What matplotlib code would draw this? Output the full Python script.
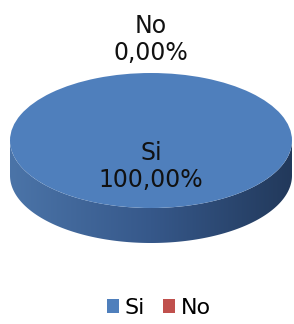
import numpy as np
import matplotlib.pyplot as plt
from matplotlib.colors import LinearSegmentedColormap
from matplotlib.patches import Polygon, Patch

categories = ['Si', 'No']
values = [100.0, 0.0]
colors = ['#4F7FBC', '#C0504D']
side_colors = ['#4b74a8', '#36588a', '#22395b']

W, H = 294, 324
fig = plt.figure(figsize=(W / 100, H / 100), dpi=100)
ax = fig.add_axes([0, 0, 1, 1])

# ellipse of the pie top, in pixels (y from top of image)
cx, cy = 151, 140.5
rx, ry = 141, 67.5
depth = 35 / ry

wedges, _ = ax.pie(values, colors=colors, startangle=90, counterclock=False,
                   radius=1, wedgeprops=dict(linewidth=0, zorder=2))

# side of the 3D pie, shaded with a horizontal gradient
cmap = LinearSegmentedColormap.from_list('side', side_colors)
for w in wedges:
    t = np.radians(np.linspace(w.theta1, w.theta2, 721))
    front = np.sin(t) <= 0
    if front.sum() < 2:
        continue
    xs, ys = np.cos(t[front]), np.sin(t[front])
    pts = np.column_stack([np.r_[xs, xs[::-1]], np.r_[ys, ys[::-1] - depth]])
    poly = Polygon(pts, closed=True, facecolor='none', edgecolor='none', zorder=1)
    ax.add_patch(poly)
    grad = np.linspace(0, 1, 256).reshape(1, -1)
    im = ax.imshow(grad, cmap=cmap, extent=(xs.min(), xs.max(), -1 - depth, 0),
                   aspect='auto', zorder=1)
    im.set_clip_path(poly)

ax.set_aspect('auto')
ax.set_xlim(-cx / rx, (W - cx) / rx)
ax.set_ylim(-(H - cy) / ry, cy / ry)
ax.axis('off')

# data labels
total = sum(values)
for w, cat, v in zip(wedges, categories, values):
    share = v / total
    mid = np.radians((w.theta1 + w.theta2) / 2)
    r = 0.38 if share >= 0.5 else 1.49
    label = f"{cat}\n{share * 100:.2f}%".replace('.', ',')
    ax.text(r * np.cos(mid), r * np.sin(mid), label, ha='center', va='center',
            fontsize=17, color='#111111', linespacing=1.15, zorder=3)

handles = [Patch(facecolor=c, edgecolor='none') for c in colors]
fig.legend(handles, categories, loc='upper center', bbox_to_anchor=(0.54, 1 - 298 / H),
           ncol=2, frameon=False, fontsize=16, handlelength=0.55, handleheight=0.55,
           handletextpad=0.25, columnspacing=0.8, borderpad=0, borderaxespad=0)

fig.savefig('out.png', dpi=100)
